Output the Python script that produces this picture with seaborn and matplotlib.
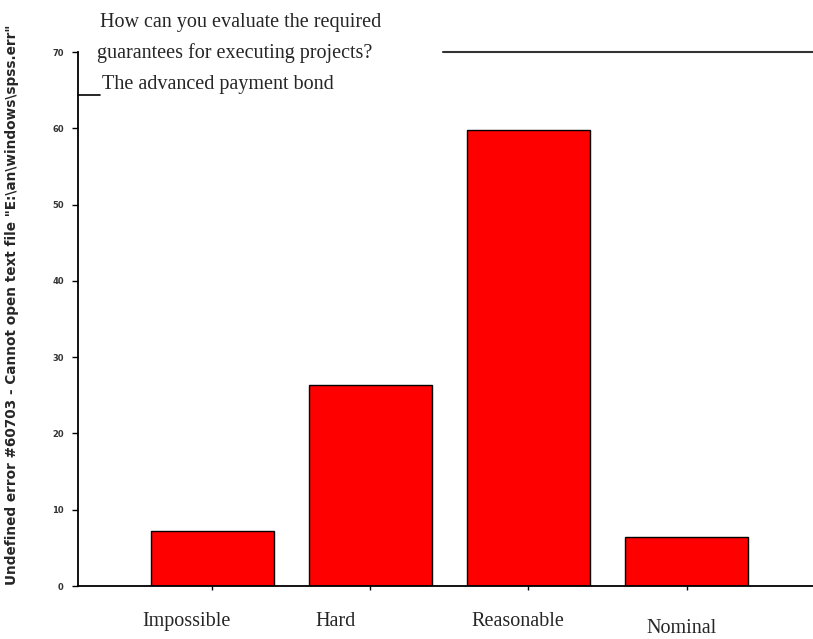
import pandas as pd
import numpy as np
import matplotlib
matplotlib.use("Agg")
import matplotlib.pyplot as plt
import matplotlib.transforms as mtransforms
import seaborn as sns

# Data
categories = ['Impossible', 'Hard', 'Reasonable', 'Nominal']
percent = [7.2, 26.3, 59.8, 6.4]
y_ticks = [0, 10, 20, 30, 40, 50, 60, 70]

title_lines = ['How can you evaluate the required',
               'guarantees for executing projects?',
               'The advanced payment bond']
err_label = 'Undefined error #60703 - Cannot open text file "E:\\an\\windows\\spss.err"'

# label shifts (pixels) - labels in the original are not centred under the ticks
label_dx = [-26, -35, -11, -5]
label_dy = [0, 0, 0, -7]

sns.set_style("white")
plt.rcParams['font.family'] = ['Liberation Serif', 'DejaVu Serif']

df = pd.DataFrame({'cat': categories, 'pct': percent})

fig = plt.figure(figsize=(8.13, 6.39), dpi=100)
ax = fig.add_axes([78/813, 1 - 586/639, 1 - 78/813, (586 - 52)/639])

sns.barplot(data=df, x='cat', y='pct', color='#ff0000', saturation=1,
            edgecolor='black', linewidth=1.0, width=0.78, ax=ax)

ax.set_ylim(0, 70)
ax.set_xlim(-0.85, 3.8)
ax.set_yticks(y_ticks)
ax.set_yticklabels([str(v) for v in y_ticks], fontsize=6, color='#333333',
                   family=['DejaVu Sans'], fontweight='bold')
ax.set_xticks(range(len(categories)))
ax.set_xticklabels(categories, fontsize=14.5)
ax.set_xlabel('')
ax.set_ylabel('')

# spines: left + bottom, partial top line
for s in ['top', 'right']:
    ax.spines[s].set_visible(False)
for s in ['left', 'bottom']:
    ax.spines[s].set_color('black')
    ax.spines[s].set_linewidth(1.3)
ax.axhline(70, xmin=(443 - 78)/735, xmax=1, color='#333333', lw=1.5, clip_on=False)

ax.tick_params(axis='y', direction='out', length=4.3, width=1, color='black', pad=6, left=True)
ax.tick_params(axis='x', direction='out', length=3, width=1, color='black', pad=16, bottom=True)

for lab, dx, dy in zip(ax.get_xticklabels(), label_dx, label_dy):
    lab.set_transform(lab.get_transform() +
                      mtransforms.ScaledTranslation(dx/100, dy/100, fig.dpi_scale_trans))

# title block
fig.text(100/813, 1 - 22/639, title_lines[0], fontsize=14.5, va='center', ha='left')
fig.text(97/813, 1 - 53/639, title_lines[1], fontsize=14.5, va='center', ha='left')
fig.text(102/813, 1 - 85/639, title_lines[2], fontsize=14.5, va='center', ha='left')
fig.add_artist(plt.Line2D([78/813, 100/813], [1 - 95/639, 1 - 95/639],
                          color='black', lw=1.2, transform=fig.transFigure))

# rotated error label
fig.text(12/813, 1 - 305/639, err_label, rotation=90, fontsize=9.8, va='center', ha='center',
         family=['DejaVu Sans'], fontweight='bold')

fig.savefig('out.png', dpi=100)
